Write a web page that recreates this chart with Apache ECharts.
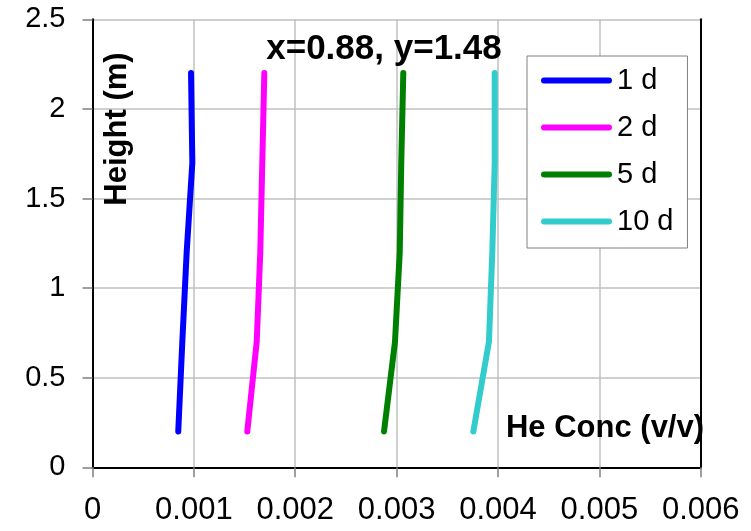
<!DOCTYPE html>
<html>
<head>
<meta charset="utf-8">
<script src="https://cdn.jsdelivr.net/npm/echarts@6/dist/echarts.min.js"></script>
<style>
html,body{margin:0;padding:0;background:#fff;}
#chart{width:751px;height:531px;}
</style>
</head>
<body>
<div id="chart"></div>
<script>
var heights = [0.2, 0.7, 1.2, 1.7, 2.2];
var seriesNames = ['1 d', '2 d', '5 d', '10 d'];
var conc1d = [0.000846, 0.000886, 0.000929, 0.000985, 0.000972];
var conc2d = [0.001527, 0.00162, 0.001655, 0.001675, 0.001695];
var conc5d = [0.002876, 0.002984, 0.003031, 0.003046, 0.003066];
var conc10d = [0.003757, 0.003911, 0.003944, 0.003968, 0.003968];
var xTicks = [0, 0.001, 0.002, 0.003, 0.004, 0.005, 0.006];
var yTicks = [0, 0.5, 1, 1.5, 2, 2.5];
var titleText = 'x=0.88, y=1.48';
var xName = 'He Conc (v/v)';
var yName = 'Height (m)';

var colors = ['#0000ff', '#ff00ff', '#008000', '#33cccc'];
var allConc = [conc1d, conc2d, conc5d, conc10d];
var FONT = '"Liberation Sans", Arial, sans-serif';

function pairs(xs) {
  return xs.map(function (x, i) { return [x, heights[i]]; });
}

var chart = echarts.init(document.getElementById('chart'), null, {renderer: 'canvas'});
var option = {
  animation: false,
  backgroundColor: '#ffffff',
  textStyle: {fontFamily: FONT},
  grid: {left: 92.5, top: 19.3, right: 50.3, bottom: 63.7, containLabel: false},
  xAxis: {
    type: 'value',
    min: xTicks[0], max: xTicks[xTicks.length - 1], interval: 0.001,
    axisLine: {show: true, onZero: false, lineStyle: {color: '#000', width: 2}},
    axisTick: {show: true, inside: false, length: 10, lineStyle: {color: '#808080', width: 1.5}},
    axisLabel: {
      color: '#000', fontSize: 31, fontFamily: FONT, margin: 28,
      formatter: function (v) { return v === 0 ? '0' : v.toFixed(3); }
    },
    splitLine: {show: true, lineStyle: {color: '#c0c0c0', width: 1.5}}
  },
  yAxis: [{
    type: 'value',
    min: yTicks[0], max: yTicks[yTicks.length - 1], interval: 0.5,
    axisLine: {show: true, onZero: false, lineStyle: {color: '#000', width: 2}},
    axisTick: {show: true, inside: false, length: 10, lineStyle: {color: '#808080', width: 1.5}},
    axisLabel: {color: '#000', fontSize: 29, fontFamily: FONT, margin: 27},
    splitLine: {show: true, lineStyle: {color: '#c0c0c0', width: 1.5}}
  }, {
    type: 'value', position: 'right',
    min: yTicks[0], max: yTicks[yTicks.length - 1], interval: 0.5,
    axisLine: {show: true, onZero: false, lineStyle: {color: '#000', width: 2}},
    axisTick: {show: false}, axisLabel: {show: false}, splitLine: {show: false}
  }],
  legend: {
    orient: 'vertical',
    left: 527, top: 56,
    padding: [10, 14, 12, 14],
    backgroundColor: '#fff',
    borderColor: '#808080', borderWidth: 1,
    itemWidth: 71, itemHeight: 7, itemGap: 18,
    textStyle: {color: '#000', fontSize: 29, lineHeight: 29, fontFamily: FONT},
    data: seriesNames.map(function (n, i) {
      return {name: n, icon: 'path://M3,0 H67 A3,3 0 0 1 67,6 H3 A3,3 0 0 1 3,0 Z', itemStyle: {color: colors[i]}};
    })
  },
  series: seriesNames.map(function (n, i) {
    return {
      name: n, type: 'line', data: pairs(allConc[i]),
      showSymbol: false, symbol: 'none',
      lineStyle: {color: colors[i], width: 6, cap: 'round', join: 'round'},
      itemStyle: {color: colors[i]},
      z: 3
    };
  }),
  graphic: [
    {type: 'text', x: 384, y: 49.5, z: 10,
     style: {text: titleText, fill: '#000', font: 'bold 35px ' + FONT, textAlign: 'center', textVerticalAlign: 'middle'}},
    {type: 'text', x: 605, y: 428, z: 10,
     style: {text: xName, fill: '#000', font: 'bold 31px ' + FONT, textAlign: 'center', textVerticalAlign: 'middle'}},
    {type: 'text', x: 117, y: 129, rotation: Math.PI / 2, z: 10,
     style: {text: yName, fill: '#000', font: 'bold 31px ' + FONT, textAlign: 'center', textVerticalAlign: 'middle'}}
  ]
};
chart.setOption(option);
</script>
</body>
</html>
